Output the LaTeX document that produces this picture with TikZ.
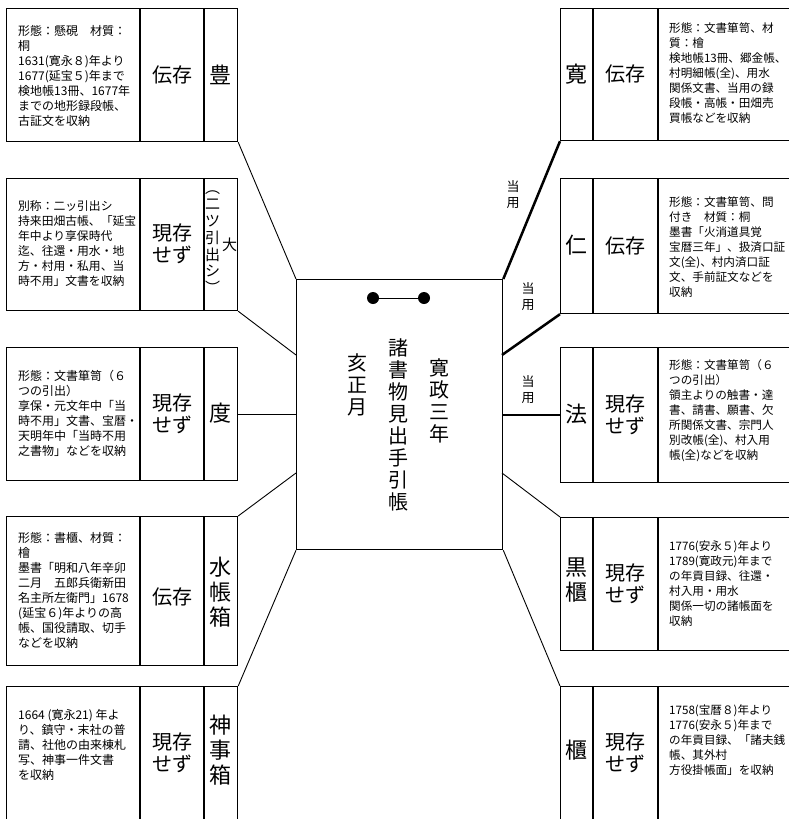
\documentclass[tikz,border=0pt]{standalone}
\usepackage{fontspec}
\newfontfamily\jp{Noto Sans CJK JP}
\begin{document}
\begin{tikzpicture}[x=1pt,y=-1pt,
  box/.style={draw, line width=1.2pt, anchor=north west, inner sep=0pt, minimum width=231pt},
  rbox/.style={draw, line width=1.2pt, anchor=north west, inner sep=0pt, minimum width=240pt},
  divider/.style={line width=1.1pt},
  small/.style={font=\jp\fontsize{12}{15}\selectfont, align=left, anchor=west, inner sep=0pt},
  rsmall/.style={font=\jp\fontsize{11.6}{15}\selectfont, align=left, anchor=west, inner sep=0pt},
  state/.style={font=\jp\fontsize{20}{22}\selectfont, align=center, inner sep=0pt},
  lab/.style={font=\jp\fontsize{22}{25}\selectfont, align=center, inner sep=0pt},
  vcol/.style={font=\jp\fontsize{20}{22}\selectfont, align=center, inner sep=0pt},
  use/.style={font=\jp\fontsize{13}{16}\selectfont, align=center, inner sep=0pt},
  thinlink/.style={line width=0.9pt},
  boldlink/.style={line width=2.5pt},
  dot/.style={circle, fill=black, inner sep=0pt, minimum size=12pt}
]
\useasboundingbox (0,0) rectangle (789,819);
\clip (0,0) rectangle (789,819);

% ---------- centre ----------
\node[draw, line width=1.3pt, anchor=north west, minimum width=206pt, minimum height=270pt, inner sep=0pt] (C) at (296,279) {};
\node[dot] (d1) at (373,298) {};
\node[dot] (d2) at (424,298) {};
\draw[line width=1pt] (d1) -- (d2);
\node[vcol] (t1) at (439,401) {寛\\政\\三\\年};
\node[vcol] (t2) at (398,424.5) {諸\\書\\物\\見\\出\\手\\引\\帳};
\node[vcol] (t3) at (357,385) {亥\\正\\月};

\coordinate (cL2) at (296,355);
\coordinate (cL4) at (296,473);
\coordinate (cR2) at (502,355);
\coordinate (cR4) at (502,473);

% ---------- left boxes ----------
\node[box, minimum height=133pt] (L1) at (6,8) {};
\draw[divider] (140,8) -- (140,141) (204,8) -- (204,141);
\node[small] (L1t) at (18,76) {形態：懸硯　材質：\\桐\\1631(寛永８)年より\\1677(延宝５)年まで\\検地帳13冊、1677年\\までの地形録段帳、\\古証文を収納};
\node[state] (L1s) at (172,74.5) {伝存};
\node[lab] (L1l) at (220.5,74.5) {豊};

\node[box, minimum height=132pt] (L2) at (6,178) {};
\draw[divider] (140,178) -- (140,310) (204,178) -- (204,310);
\node[small, font=\jp\fontsize{11.8}{15}\selectfont] (L2t) at (18,244) {別称：二ッ引出シ\\持来田畑古帳、「延宝\\年中より享保時代\\迄、往還・用水・地\\方・村用・私用、当\\時不用」文書を収納};
\node[state] (L2s) at (172,244) {現存\\せず};
\node[font=\jp\fontsize{15}{16.7}\selectfont, align=center, inner sep=0pt] (L2l) at (212.5,242) {︵\\二\\ツ\\引\\出\\シ\\︶};
\node[font=\jp\fontsize{15}{16}\selectfont, inner sep=0pt] (L2d) at (229.5,245) {大};

\node[box, minimum height=133pt] (L3) at (6,347) {};
\draw[divider] (140,347) -- (140,480) (204,347) -- (204,480);
\node[small] (L3t) at (18,413.5) {形態：文書箪笥（６\\つの引出）\\享保・元文年中「当\\時不用」文書、宝暦・\\天明年中「当時不用\\之書物」などを収納};
\node[state] (L3s) at (172,413.5) {現存\\せず};
\node[lab] (L3l) at (220.5,413.5) {度};

\node[box, minimum height=149pt] (L4) at (6,516) {};
\draw[divider] (140,516) -- (140,665) (204,516) -- (204,665);
\node[small] (L4t) at (18,590.5) {形態：書櫃、材質：\\檜\\墨書「明和八年辛卯\\二月　五郎兵衛新田\\名主所左衛門」1678\\(延宝６)年よりの高\\帳、国役請取、切手\\などを収納};
\node[state] (L4s) at (172,597) {伝存};
\node[lab] (L4l) at (220.5,592) {水\\帳\\箱};

\node[box, minimum height=150pt] (L5) at (6,686) {};
\draw[divider] (140,686) -- (140,836) (204,686) -- (204,836);
\node[small] (L5t) at (18,745) {1664 (寛永21) 年よ\\り、鎮守・末社の普\\請、社他の由来棟札\\写、神事一件文書\\を収納};
\node[state] (L5s) at (172,753) {現存\\せず};
\node[lab] (L5l) at (220.5,750) {神\\事\\箱};

% ---------- right boxes ----------
\node[rbox, minimum height=132pt] (R1) at (560,8) {};
\draw[divider] (593,8) -- (593,140) (658,8) -- (658,140);
\node[lab] (R1l) at (576.5,74) {寛};
\node[state] (R1s) at (625.5,74) {伝存};
\node[rsmall] (R1t) at (669,73) {形態：文書箪笥、材\\質：檜\\検地帳13冊、郷金帳、\\村明細帳(全)、用水\\関係文書、当用の録\\段帳・高帳・田畑売\\買帳などを収納};

\node[rbox, minimum height=135pt] (R2) at (560,178) {};
\draw[divider] (593,178) -- (593,313) (658,178) -- (658,313);
\node[lab] (R2l) at (576.5,245.5) {仁};
\node[state] (R2s) at (625.5,245.5) {伝存};
\node[rsmall] (R2t) at (669,247) {形態：文書箪笥、問\\付き　材質：桐\\墨書「火消道具覚\\宝暦三年」、扱済口証\\文(全)、村内済口証\\文、手前証文などを\\収納};

\node[rbox, minimum height=135pt] (R3) at (560,347) {};
\draw[divider] (593,347) -- (593,482) (658,347) -- (658,482);
\node[lab] (R3l) at (576.5,414.5) {法};
\node[state] (R3s) at (625.5,414.5) {現存\\せず};
\node[rsmall] (R3t) at (669,411) {形態：文書箪笥（６\\つの引出）\\領主よりの触書・達\\書、請書、願書、欠\\所関係文書、宗門人\\別改帳(全)、村入用\\帳(全)などを収納};

\node[rbox, minimum height=133pt] (R4) at (560,517) {};
\draw[divider] (593,517) -- (593,650) (658,517) -- (658,650);
\node[lab] (R4l) at (576.5,580) {黒\\櫃};
\node[state] (R4s) at (625.5,583.5) {現存\\せず};
\node[rsmall] (R4t) at (669,583.5) {1776(安永５)年より\\1789(寛政元)年まで\\の年貢目録、往還・\\村入用・用水\\関係一切の諸帳面を\\収納};

\node[rbox, minimum height=150pt] (R5) at (560,686) {};
\draw[divider] (593,686) -- (593,836) (658,686) -- (658,836);
\node[lab] (R5l) at (576.5,750) {櫃};
\node[state] (R5s) at (625.5,753) {現存\\せず};
\node[rsmall] (R5t) at (669,740) {1758(宝暦８)年より\\1776(安永５)年まで\\の年貢目録、「諸夫銭\\帳、其外村\\方役掛帳面」を収納};

% ---------- connectors ----------
\draw[thinlink] (L1.south east) -- (C.north west);
\draw[thinlink] (L2.south east) -- (cL2);
\draw[thinlink] (L3.east) -- (L3.east -| C.west);
\draw[thinlink] (L4.north east) -- (cL4);
\draw[thinlink] (L5.north east) -- (C.south west);

\draw[boldlink] (R1.south west) -- (C.north east);
\draw[boldlink] (R2.south west) -- (cR2);
\draw[boldlink] (R3.west) -- (R3.west -| C.east);
\draw[thinlink] (R4.north west) -- (cR4);
\draw[thinlink] (R5.north west) -- (C.south east);

\node[use] (u1) at (513,195) {当\\用};
\node[use] (u2) at (528,297) {当\\用};
\node[use] (u3) at (528,390) {当\\用};
\end{tikzpicture}
\end{document}
